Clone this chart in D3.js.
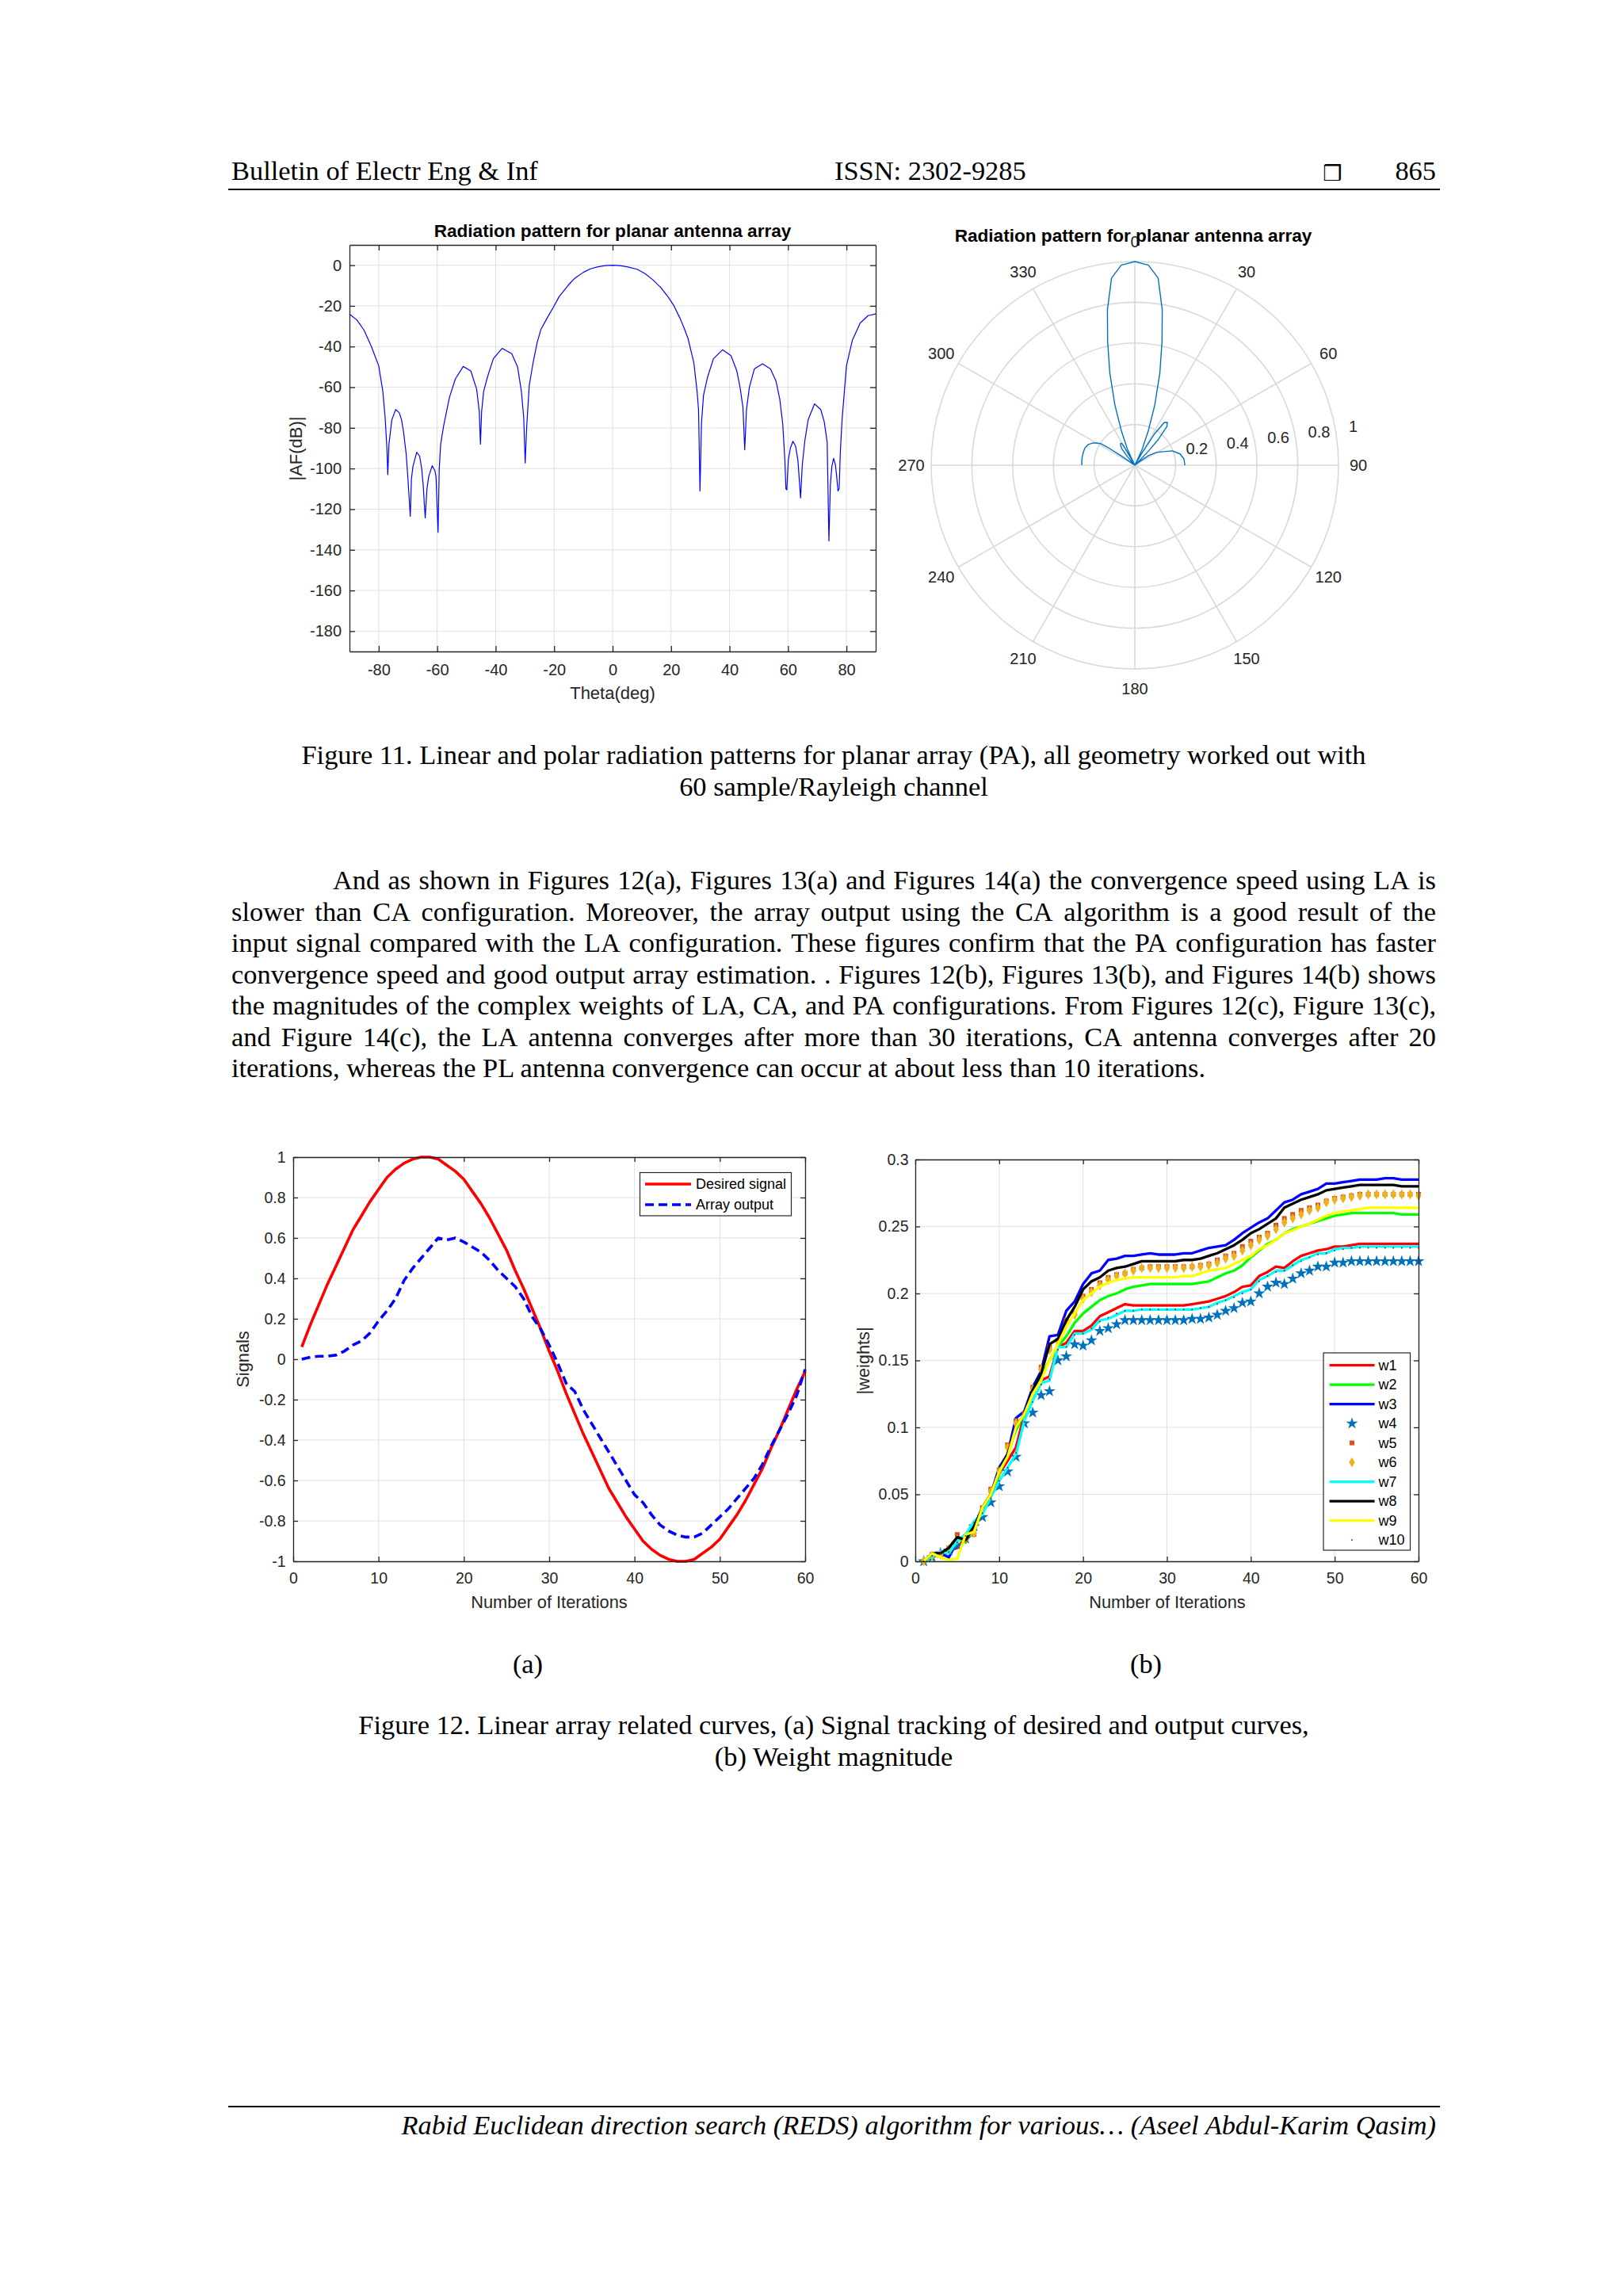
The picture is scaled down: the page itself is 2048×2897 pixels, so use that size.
<!DOCTYPE html>
<html>
<head>
<meta charset="utf-8">
<title>Figures 11 and 12</title>
<script src="https://cdn.jsdelivr.net/npm/d3@7/dist/d3.min.js"></script>
<style>
  html, body { margin:0; padding:0; background:#ffffff; }
  svg { display:block; }
</style>
</head>
<body>
<svg id="page" width="2048" height="2897" xmlns="http://www.w3.org/2000/svg"></svg>
<script>
// ---------------- DATA ----------------
// Figure 11 (left): |AF| in dB versus theta (deg)
const afTheta = [
  -90,-87.5,-85,-82.5,-80,-78.6,-77.8,-77.2,-76.9,-76.5,
  -76,-75.5,-74.2,-73,-72.2,-71.5,-70.6,-70,-69.2,-68.8,
  -68.3,-67,-66,-65.3,-64.8,-64.1,-63.5,-62.9,-61.7,-60.8,
  -60.4,-59.7,-59.3,-58.8,-57.8,-55.8,-53.8,-51.1,-48.5,-46.5,
  -45.6,-45.2,-44.8,-44.1,-42.8,-40.8,-37.8,-34.5,-32.5,-31.2,
  -30.4,-29.9,-29.4,-28.5,-27.2,-25.8,-24.5,-22.4,-20,-18.3,
  -15,-13,-10,-7.6,-5,-2.5,0,2.5,5,8.4,
  11,13.8,16.5,19.1,21,23.2,24.5,25.8,26.8,27.8,
  28.9,29.4,29.9,30.4,31.1,32.5,34.5,37.6,40.5,42.5,
  43.6,44.6,45.2,45.8,46.8,48.5,51.3,54,55.9,57.2,
  58.2,58.9,59.3,59.6,60.1,60.8,61.7,62.6,63.4,64.3,
  64.9,65.8,66.9,69.1,71.2,72.4,73.4,74.0,74.5,75.0,
  75.6,76.2,76.6,77.1,77.5,77.9,78.5,80,82,84.7,
  87.4,90
];
const afDb = [
  -24,-26.9,-32,-40,-49.5,-62,-75,-90,-103,-88,
  -82,-76,-71,-72.5,-76,-82,-93,-105,-123.5,-105,
  -99,-92,-94,-100,-108,-124.3,-110,-104,-98.6,-101,
  -104,-131.4,-100,-88,-79,-65,-56,-49.8,-52,-61,
  -72,-88,-72,-62,-55,-46,-40.9,-43.5,-50,-62,
  -75,-97.3,-80,-59,-48,-38,-31.5,-26,-20,-15.5,
  -9.5,-6.5,-3.5,-1.8,-0.8,-0.2,0,-0.2,-0.8,-2,
  -4,-7.2,-11,-15.8,-20,-26.5,-31,-36,-42,-48,
  -62,-71,-111,-78,-64,-55,-46,-41.6,-44.5,-52,
  -60,-70,-90.8,-71,-60,-51,-48.5,-51,-57,-66,
  -78,-95,-110,-110.5,-96,-90,-86.6,-89,-96,-114.5,
  -98,-86,-76,-68.2,-71,-77,-87,-135.6,-108,-99,
  -95,-98,-103,-111,-110,-92,-76,-49.5,-37,-28.4,
  -24.8,-24
];
const afXTicks = [-80,-60,-40,-20,0,20,40,60,80];
const afYTicks = [0,-20,-40,-60,-80,-100,-120,-140,-160,-180];

// Figure 11 (right): normalised pattern in polar form
const polarTheta = [
  -90,-86,-82,-78,-74,-70.7,-66,-62,-59.5,-57.6,
  -56.5,-55.5,-55,-54.5,-45,-42,-41,-38.5,-35.5,-33,
  -31,-30,-29.5,-29,-26.5,-24.7,-21.3,-18.3,-15.2,-12.4,
  -10,-7.1,-3.9,0,3.9,7.1,10,12.4,15.2,18.3,
  21.3,24.7,26.5,28,30,32.2,34.6,37.3,39.6,42.4,
  44,45.5,47,50,52,55,59,63,69,76,
  82.6,90
];
const polarR = [
  0.26,0.261,0.262,0.261,0.26,0.259,0.25,0.233,0.215,0.197,
  0.15,0.08,0.02,0,0,0.03,0.052,0.1,0.12,0.128,
  0.125,0.1,0.05,0,0.02,0.086,0.184,0.312,0.468,0.622,
  0.775,0.926,0.984,1,0.984,0.926,0.775,0.622,0.468,0.312,
  0.184,0.086,0.02,0,0.06,0.184,0.255,0.264,0.247,0.169,
  0.09,0.02,0,0.01,0.026,0.082,0.12,0.145,0.197,0.229,
  0.243,0.246
];
const polarAngleTicks = [0,30,60,90,120,150,180,210,240,270,300,330];
const polarRTicks = [0.2,0.4,0.6,0.8,1];

// Figure 12(a): signal tracking
const iterations = d3.range(1, 61);
const desiredSignal = [
  0.06,0.17,0.27,0.37,0.46,0.55,0.64,0.71,0.78,0.84,
  0.90,0.94,0.97,0.99,1.00,1.00,0.99,0.96,0.93,0.89,
  0.83,0.77,0.70,0.62,0.54,0.44,0.35,0.25,0.15,0.04,
  -0.06,-0.17,-0.27,-0.37,-0.46,-0.55,-0.64,-0.71,-0.78,-0.84,
  -0.90,-0.94,-0.97,-0.99,-1.00,-1.00,-0.99,-0.96,-0.93,-0.89,
  -0.83,-0.77,-0.70,-0.62,-0.54,-0.44,-0.35,-0.25,-0.15,-0.06
];
const arrayOutput = [
  0,0.01,0.015,0.015,0.02,0.04,0.07,0.09,0.13,0.19,
  0.24,0.30,0.39,0.45,0.50,0.55,0.60,0.59,0.60,0.58,
  0.555,0.53,0.49,0.44,0.40,0.36,0.30,0.21,0.15,0.07,
  -0.02,-0.12,-0.16,-0.25,-0.32,-0.39,-0.46,-0.53,-0.60,-0.67,
  -0.71,-0.77,-0.82,-0.85,-0.87,-0.88,-0.88,-0.86,-0.82,-0.78,
  -0.74,-0.69,-0.64,-0.59,-0.52,-0.43,-0.35,-0.27,-0.18,-0.05
];
const sigXTicks = [0,10,20,30,40,50,60];
const sigYTicks = [-1,-0.8,-0.6,-0.4,-0.2,0,0.2,0.4,0.6,0.8,1];

// Figure 12(b): weight magnitudes
const w1 = [
  0,0.004,0.005,0.008,0.010,0.018,0.026,0.036,0.050,0.065,
  0.075,0.085,0.110,0.125,0.135,0.138,0.160,0.163,0.172,0.172,
  0.176,0.183,0.186,0.189,0.192,0.191,0.191,0.191,0.191,0.191,
  0.191,0.191,0.192,0.193,0.194,0.196,0.198,0.201,0.205,0.206,
  0.213,0.216,0.220,0.219,0.224,0.228,0.230,0.232,0.233,0.235,
  0.235,0.236,0.237,0.237,0.237,0.237,0.237,0.237,0.237,0.237
];
const w2 = [
  0,0.004,0.006,0.010,0.018,0.014,0.025,0.040,0.050,0.065,
  0.080,0.098,0.110,0.125,0.138,0.150,0.160,0.168,0.178,0.185,
  0.190,0.195,0.198,0.200,0.203,0.205,0.206,0.207,0.207,0.207,
  0.207,0.207,0.207,0.208,0.209,0.212,0.215,0.217,0.221,0.227,
  0.232,0.237,0.240,0.245,0.248,0.250,0.252,0.254,0.256,0.258,
  0.259,0.260,0.260,0.260,0.260,0.260,0.260,0.259,0.259,0.259
];
const w3 = [
  0,0.005,0.006,0.003,0.015,0.020,0.022,0.040,0.050,0.070,
  0.080,0.107,0.112,0.130,0.142,0.168,0.169,0.187,0.194,0.207,
  0.215,0.217,0.225,0.226,0.228,0.228,0.229,0.230,0.229,0.229,
  0.229,0.230,0.230,0.232,0.234,0.235,0.236,0.240,0.245,0.249,
  0.253,0.256,0.262,0.268,0.270,0.274,0.276,0.278,0.282,0.282,
  0.283,0.284,0.285,0.285,0.285,0.286,0.286,0.285,0.285,0.285
];
const w4 = [
  0,0.003,0.006,0.008,0.012,0.017,0.026,0.033,0.044,0.056,
  0.067,0.078,0.103,0.111,0.124,0.127,0.150,0.153,0.162,0.161,
  0.165,0.172,0.174,0.177,0.180,0.180,0.180,0.180,0.180,0.180,
  0.180,0.180,0.181,0.181,0.182,0.184,0.187,0.189,0.193,0.194,
  0.200,0.205,0.208,0.207,0.211,0.215,0.217,0.220,0.220,0.223,
  0.223,0.224,0.224,0.224,0.224,0.224,0.224,0.224,0.224,0.224
];
const w5 = [
  0,0.005,0.005,0.010,0.020,0.016,0.020,0.040,0.054,0.068,
  0.087,0.105,0.110,0.130,0.145,0.160,0.165,0.180,0.185,0.198,
  0.203,0.208,0.212,0.214,0.215,0.218,0.219,0.220,0.220,0.220,
  0.220,0.220,0.220,0.221,0.222,0.225,0.228,0.230,0.235,0.239,
  0.242,0.245,0.251,0.256,0.259,0.262,0.264,0.266,0.269,0.271,
  0.272,0.273,0.274,0.274,0.274,0.274,0.274,0.274,0.274,0.274
];
const w6 = [
  0,0.004,0.005,0.009,0.016,0.018,0.021,0.038,0.052,0.067,
  0.085,0.103,0.108,0.128,0.143,0.158,0.164,0.178,0.184,0.196,
  0.201,0.206,0.210,0.213,0.215,0.217,0.219,0.219,0.219,0.219,
  0.219,0.219,0.220,0.220,0.221,0.223,0.226,0.228,0.232,0.236,
  0.240,0.243,0.248,0.253,0.256,0.259,0.262,0.264,0.268,0.270,
  0.271,0.272,0.273,0.274,0.274,0.274,0.274,0.274,0.274,0.273
];
const w7 = [
  0,0.004,0.007,0.006,0.015,0.020,0.030,0.035,0.048,0.060,
  0.070,0.080,0.105,0.120,0.133,0.135,0.160,0.160,0.170,0.170,
  0.173,0.180,0.181,0.184,0.187,0.187,0.188,0.188,0.188,0.188,
  0.188,0.188,0.188,0.189,0.190,0.193,0.195,0.198,0.201,0.203,
  0.210,0.213,0.217,0.217,0.221,0.225,0.227,0.230,0.230,0.233,
  0.234,0.234,0.235,0.235,0.235,0.235,0.235,0.235,0.235,0.235
];
const w8 = [
  0,0.006,0.006,0.010,0.018,0.016,0.026,0.040,0.050,0.067,
  0.080,0.100,0.110,0.128,0.140,0.162,0.166,0.180,0.190,0.203,
  0.209,0.212,0.217,0.219,0.220,0.222,0.224,0.224,0.224,0.224,
  0.224,0.225,0.225,0.226,0.228,0.230,0.233,0.236,0.240,0.245,
  0.248,0.252,0.256,0.264,0.267,0.270,0.272,0.274,0.277,0.278,
  0.279,0.280,0.281,0.281,0.281,0.281,0.281,0.280,0.280,0.280
];
const w9 = [
  0,0.006,0.003,0.001,0.002,0.020,0.022,0.040,0.050,0.067,
  0.078,0.100,0.110,0.125,0.135,0.150,0.162,0.175,0.185,0.195,
  0.200,0.205,0.208,0.210,0.211,0.212,0.212,0.212,0.212,0.212,
  0.212,0.213,0.213,0.215,0.217,0.218,0.219,0.222,0.225,0.228,
  0.233,0.236,0.240,0.245,0.247,0.250,0.252,0.255,0.258,0.260,
  0.261,0.262,0.263,0.264,0.264,0.264,0.264,0.264,0.264,0.264
];
const w10 = [
  0,0.004,0.006,0.007,0.014,0.019,0.029,0.036,0.047,0.060,
  0.070,0.081,0.104,0.119,0.132,0.136,0.158,0.160,0.169,0.170,
  0.174,0.179,0.182,0.185,0.187,0.187,0.188,0.188,0.188,0.188,
  0.188,0.188,0.188,0.189,0.190,0.192,0.195,0.197,0.200,0.203,
  0.209,0.213,0.216,0.217,0.221,0.224,0.227,0.229,0.230,0.232,
  0.233,0.234,0.234,0.234,0.234,0.234,0.234,0.234,0.234,0.234
];
const weightNames = ["w1","w2","w3","w4","w5","w6","w7","w8","w9","w10"];
const wXTicks = [0,10,20,30,40,50,60];
const wYTicks = [0,0.05,0.1,0.15,0.2,0.25,0.3];

// Page text
const headerLeft = "Bulletin of Electr Eng & Inf";
const headerMid = "ISSN: 2302-9285";
const headerPage = "865";
const fig11Caption = ["Figure 11. Linear and polar radiation patterns for planar array (PA), all geometry worked out with",
                      "60 sample/Rayleigh channel"];
const bodyLines = [
  "And as shown in Figures 12(a), Figures 13(a) and Figures 14(a) the convergence speed using LA is",
  "slower than CA configuration. Moreover, the array output using the CA algorithm is a good result of the",
  "input signal compared with the LA configuration. These figures confirm that the PA configuration has faster",
  "convergence speed and good output array estimation. . Figures 12(b), Figures 13(b), and Figures 14(b) shows",
  "the magnitudes of the complex weights of LA, CA, and PA configurations. From Figures 12(c), Figure 13(c),",
  "and Figure 14(c), the LA antenna converges after more than 30 iterations, CA antenna converges after 20",
  "iterations, whereas the PL antenna convergence can occur at about less than 10 iterations."
];
const fig12Caption = ["Figure 12. Linear array related curves, (a) Signal tracking of desired and output curves,",
                      "(b) Weight magnitude"];
const footerText = "Rabid Euclidean direction search (REDS) algorithm for various\u2026 (Aseel Abdul-Karim Qasim)";

// ---------------- DRAWING ----------------
const svg = d3.select('#page');
const SANS = "'Liberation Sans', Arial, Helvetica, sans-serif";
const SERIF = "'Liberation Serif', 'Times New Roman', Times, serif";
const AXC = '#262626';
const GRID = '#e0e0e0';
const PGRID = '#d9d9d9';
const BODY_FS = 34.4;

svg.append('rect').attr('x',0).attr('y',0).attr('width',2048).attr('height',2897).attr('fill','#ffffff');

// ---- header ----
const hdr = svg.append('g').attr('font-family', SERIF).attr('font-size', BODY_FS).attr('fill', '#000');
hdr.append('text').attr('x', 292).attr('y', 227).text(headerLeft);
hdr.append('text').attr('x', 1053).attr('y', 227).text(headerMid);
hdr.append('text').attr('x', 1669).attr('y', 228).attr('font-family', "'DejaVu Sans', sans-serif").attr('font-size', 27).text('\u2752');
hdr.append('text').attr('x', 1812).attr('y', 227).attr('text-anchor','end').text(headerPage);
svg.append('line').attr('x1', 288).attr('x2', 1817).attr('y1', 239).attr('y2', 239).attr('stroke','#000').attr('stroke-width', 2.2);

// ---- helpers ----
function fmt(d){ return String(d); }
function gridLines(g, x, y, xt, yt) {
  const [xl, xr] = x.range(), [yb, ytp] = y.range();
  g.append('g').selectAll('line').data(xt).join('line')
    .attr('x1', d => x(d)).attr('x2', d => x(d)).attr('y1', ytp).attr('y2', yb)
    .attr('stroke', GRID).attr('stroke-width', 1);
  g.append('g').selectAll('line').data(yt).join('line')
    .attr('x1', xl).attr('x2', xr).attr('y1', d => y(d)).attr('y2', d => y(d))
    .attr('stroke', GRID).attr('stroke-width', 1);
}
function frame(g, x, y, o) {
  const [xl, xr] = x.range(), [yb, ytp] = y.range();
  const st = sel => {
    sel.attr('font-family', SANS).attr('font-size', o.fs).attr('color', AXC);
    sel.select('.domain').attr('stroke-width', 1.3);
    sel.selectAll('.tick line').attr('stroke-width', 1.3);
  };
  g.append('g').attr('transform', `translate(0,${yb})`)
    .call(d3.axisBottom(x).tickValues(o.xt).tickFormat(fmt).tickSizeInner(-o.tl).tickSizeOuter(0).tickPadding(o.xpad)).call(st);
  g.append('g').attr('transform', `translate(0,${ytp})`)
    .call(d3.axisTop(x).tickValues(o.xt).tickFormat(() => '').tickSizeInner(-o.tl).tickSizeOuter(0)).call(st);
  g.append('g').attr('transform', `translate(${xl},0)`)
    .call(d3.axisLeft(y).tickValues(o.yt).tickFormat(fmt).tickSizeInner(-o.tl).tickSizeOuter(0).tickPadding(o.ypad)).call(st);
  g.append('g').attr('transform', `translate(${xr},0)`)
    .call(d3.axisRight(y).tickValues(o.yt).tickFormat(() => '').tickSizeInner(-o.tl).tickSizeOuter(0)).call(st);
}

// ---- Figure 11 left: linear pattern ----
(function(){
  const g = svg.append('g');
  const x = d3.scaleLinear().domain([-90, 90]).range([441, 1105]);
  const y = d3.scaleLinear().domain([-190, 10]).range([822, 309]);
  gridLines(g, x, y, afXTicks, afYTicks);
  const line = d3.line().x(i => x(afTheta[i])).y(i => y(afDb[i]));
  g.append('path').attr('d', line(d3.range(afTheta.length)))
    .attr('fill','none').attr('stroke','#0000ff').attr('stroke-width', 1.2).attr('stroke-linejoin','round');
  frame(g, x, y, {xt: afXTicks, yt: afYTicks, fs: 20, tl: 7, xpad: 16, ypad: 10});
  g.append('text').attr('x', 773).attr('y', 299).attr('text-anchor','middle')
    .attr('font-family', SANS).attr('font-weight','bold').attr('font-size', 22.6).attr('fill','#000')
    .text('Radiation pattern for planar antenna array');
  g.append('text').attr('x', 773).attr('y', 882).attr('text-anchor','middle')
    .attr('font-family', SANS).attr('font-size', 22).attr('fill', AXC).text('Theta(deg)');
  g.append('text').attr('transform', 'translate(381,566) rotate(-90)').attr('text-anchor','middle')
    .attr('font-family', SANS).attr('font-size', 22).attr('fill', AXC).text('|AF(dB)|');
})();

// ---- Figure 11 right: polar pattern ----
(function(){
  const cx = 1432, cy = 587, R = 257;
  const r = d3.scaleLinear().domain([0, 1]).range([0, R]);
  const g = svg.append('g').attr('transform', `translate(${cx},${cy})`);
  const rad = d => d * Math.PI / 180;
  g.append('g').selectAll('line').data(polarAngleTicks).join('line')
    .attr('x1', 0).attr('y1', 0)
    .attr('x2', d => r(1) * Math.sin(rad(d))).attr('y2', d => -r(1) * Math.cos(rad(d)))
    .attr('stroke', PGRID).attr('stroke-width', 1.6);
  g.append('g').selectAll('circle').data(polarRTicks).join('circle')
    .attr('r', d => r(d)).attr('fill','none').attr('stroke', PGRID).attr('stroke-width', 1.6);
  const radial = d3.lineRadial().angle(i => rad(polarTheta[i])).radius(i => r(polarR[i]));
  g.append('path').attr('d', radial(d3.range(polarTheta.length)))
    .attr('fill','none').attr('stroke','#0072BD').attr('stroke-width', 1.4).attr('stroke-linejoin','round');
  g.append('g').selectAll('text').data(polarAngleTicks).join('text')
    .attr('x', d => (R + 25) * Math.sin(rad(d))).attr('y', d => -(R + 25) * Math.cos(rad(d)))
    .attr('dy', '0.36em').attr('text-anchor','middle')
    .attr('font-family', SANS).attr('font-size', 20).attr('fill', AXC).text(fmt);
  g.append('g').selectAll('text').data(polarRTicks).join('text')
    .attr('x', d => r(d) + 13).attr('y', d => -7 - 0.136 * r(d))
    .attr('font-family', SANS).attr('font-size', 20).attr('fill', AXC).text(fmt);
  svg.append('text').attr('x', 1430).attr('y', 305).attr('text-anchor','middle')
    .attr('font-family', SANS).attr('font-weight','bold').attr('font-size', 22.6).attr('fill','#000')
    .text('Radiation pattern for planar antenna array');
})();

// ---- page text helpers ----
function centered(lines, cx, y0, lh, opts) {
  const g = svg.append('g').attr('font-family', SERIF).attr('font-size', BODY_FS).attr('fill', '#000');
  if (opts && opts.italic) g.attr('font-style', 'italic');
  lines.forEach((t, i) => g.append('text').attr('x', cx).attr('y', y0 + i * lh).attr('text-anchor','middle').text(t));
}
function justified(lines, x0, x1, y0, lh, indent) {
  const g = svg.append('g').attr('font-family', SERIF).attr('font-size', BODY_FS).attr('fill', '#000');
  lines.forEach((line, i) => {
    const y = y0 + i * lh;
    const xs = i === 0 ? x0 + indent : x0;
    const t = g.append('text').attr('y', y);
    if (i === lines.length - 1) { t.attr('x', xs).text(line); return; }
    const words = line.split(' ');
    const widths = words.map(w => {
      const m = g.append('text').text(w);
      const L = m.node().getComputedTextLength();
      m.remove();
      return L;
    });
    const gap = (x1 - xs - d3.sum(widths)) / (words.length - 1);
    let x = xs;
    words.forEach((w, k) => { t.append('tspan').attr('x', x).text(w); x += widths[k] + gap; });
  });
}

centered(fig11Caption, 1052, 964, 39.5);
justified(bodyLines, 292, 1812, 1122, 39.5, 128);

// ---- Figure 12(a) ----
(function(){
  const g = svg.append('g');
  const x = d3.scaleLinear().domain([0, 60]).range([370, 1016]);
  const y = d3.scaleLinear().domain([-1, 1]).range([1970, 1460]);
  gridLines(g, x, y, sigXTicks, sigYTicks);
  const line = arr => d3.line().x((d, i) => x(iterations[i])).y(d => y(d))(arr);
  g.append('path').attr('d', line(desiredSignal)).attr('fill','none').attr('stroke','#ff0000').attr('stroke-width', 3.6).attr('stroke-linejoin','round');
  g.append('path').attr('d', line(arrayOutput)).attr('fill','none').attr('stroke','#0000ff').attr('stroke-width', 3.6).attr('stroke-dasharray','11,6').attr('stroke-linejoin','round');
  frame(g, x, y, {xt: sigXTicks, yt: sigYTicks, fs: 19.5, tl: 6, xpad: 14, ypad: 9.5});
  g.append('text').attr('x', 693).attr('y', 2029).attr('text-anchor','middle')
    .attr('font-family', SANS).attr('font-size', 21.8).attr('fill', AXC).text('Number of Iterations');
  g.append('text').attr('transform', 'translate(314,1715) rotate(-90)').attr('text-anchor','middle')
    .attr('font-family', SANS).attr('font-size', 21.8).attr('fill', AXC).text('Signals');
  // legend
  const lg = g.append('g');
  lg.append('rect').attr('x', 807.5).attr('y', 1479.5).attr('width', 191).attr('height', 54.5)
    .attr('fill','#fff').attr('stroke', AXC).attr('stroke-width', 1.2);
  const items = [{name:'Desired signal', color:'#ff0000', dash:null, y:1494}, {name:'Array output', color:'#0000ff', dash:'11,6', y:1520}];
  items.forEach(it => {
    const l = lg.append('line').attr('x1', 814).attr('x2', 872).attr('y1', it.y).attr('y2', it.y)
      .attr('stroke', it.color).attr('stroke-width', 3.6);
    if (it.dash) l.attr('stroke-dasharray', it.dash);
    lg.append('text').attr('x', 878).attr('y', it.y).attr('dy','0.35em')
      .attr('font-family', SANS).attr('font-size', 18).attr('fill','#000').text(it.name);
  });
})();

// ---- Figure 12(b) ----
(function(){
  const g = svg.append('g');
  const x = d3.scaleLinear().domain([0, 60]).range([1155, 1790]);
  const y = d3.scaleLinear().domain([0, 0.3]).range([1970, 1463]);
  gridLines(g, x, y, wXTicks, wYTicks);
  const series = [
    {name:'w1', data:w1, kind:'line', color:'#ff0000'},
    {name:'w2', data:w2, kind:'line', color:'#00ff00'},
    {name:'w3', data:w3, kind:'line', color:'#0000ff'},
    {name:'w4', data:w4, kind:'star', color:'#0072BD'},
    {name:'w5', data:w5, kind:'square', color:'#D95319'},
    {name:'w6', data:w6, kind:'diamond', color:'#EDB120'},
    {name:'w7', data:w7, kind:'line', color:'#00ffff'},
    {name:'w8', data:w8, kind:'line', color:'#000000'},
    {name:'w9', data:w9, kind:'line', color:'#ffff00'},
    {name:'w10', data:w10, kind:'dot', color:'#A2142F'}
  ];
  const symTypes = {star: d3.symbolStar, square: d3.symbolSquare, diamond: d3.symbolDiamond, dot: d3.symbolCircle};
  const symSizes = {star: 70, square: 36, diamond: 48, dot: 3};
  const drawMark = (sel, s, px, py) => {
    if (s.kind === 'line') return;
    sel.append('path').attr('transform', `translate(${px},${py})`)
      .attr('d', d3.symbol().type(symTypes[s.kind]).size(symSizes[s.kind])())
      .attr('fill', s.color).attr('stroke', 'none');
  };
  const plot = g.append('g');
  series.forEach(s => {
    if (s.kind === 'line') {
      plot.append('path').attr('d', d3.line().x((d, i) => x(iterations[i])).y(d => y(d))(s.data))
        .attr('fill','none').attr('stroke', s.color).attr('stroke-width', 3.3).attr('stroke-linejoin','round');
    } else {
      const mg = plot.append('g');
      s.data.forEach((d, i) => drawMark(mg, s, x(iterations[i]), y(d)));
    }
  });
  frame(g, x, y, {xt: wXTicks, yt: wYTicks, fs: 19.5, tl: 6, xpad: 14, ypad: 8.5});
  g.append('text').attr('x', 1473).attr('y', 2029).attr('text-anchor','middle')
    .attr('font-family', SANS).attr('font-size', 21.8).attr('fill', AXC).text('Number of Iterations');
  g.append('text').attr('transform', 'translate(1097,1717) rotate(-90)').attr('text-anchor','middle')
    .attr('font-family', SANS).attr('font-size', 21.8).attr('fill', AXC).text('|weights|');
  // legend
  const lg = g.append('g');
  lg.append('rect').attr('x', 1670).attr('y', 1707).attr('width', 109.5).attr('height', 249)
    .attr('fill','#fff').attr('stroke', AXC).attr('stroke-width', 1.2);
  series.forEach((s, k) => {
    const yy = 1722.6 + k * 24.5;
    if (s.kind === 'line') {
      lg.append('line').attr('x1', 1677.6).attr('x2', 1734.6).attr('y1', yy).attr('y2', yy)
        .attr('stroke', s.color).attr('stroke-width', 3.3);
    } else {
      drawMark(lg, s, 1706, yy);
    }
    lg.append('text').attr('x', 1739.5).attr('y', yy).attr('dy','0.35em')
      .attr('font-family', SANS).attr('font-size', 18).attr('fill','#000').text(weightNames[k]);
  });
})();

// ---- sub-labels and caption ----
const sub = svg.append('g').attr('font-family', SERIF).attr('font-size', BODY_FS).attr('fill','#000');
sub.append('text').attr('x', 666).attr('y', 2111).attr('text-anchor','middle').text('(a)');
sub.append('text').attr('x', 1446).attr('y', 2111).attr('text-anchor','middle').text('(b)');
centered(fig12Caption, 1052, 2188, 39.5);

// ---- footer ----
svg.append('line').attr('x1', 288).attr('x2', 1817).attr('y1', 2658).attr('y2', 2658).attr('stroke','#000').attr('stroke-width', 2.2);
svg.append('text').attr('x', 1812).attr('y', 2693).attr('text-anchor','end')
  .attr('font-family', SERIF).attr('font-style','italic').attr('font-size', BODY_FS).attr('fill','#000').text(footerText);
</script>
</body>
</html>
